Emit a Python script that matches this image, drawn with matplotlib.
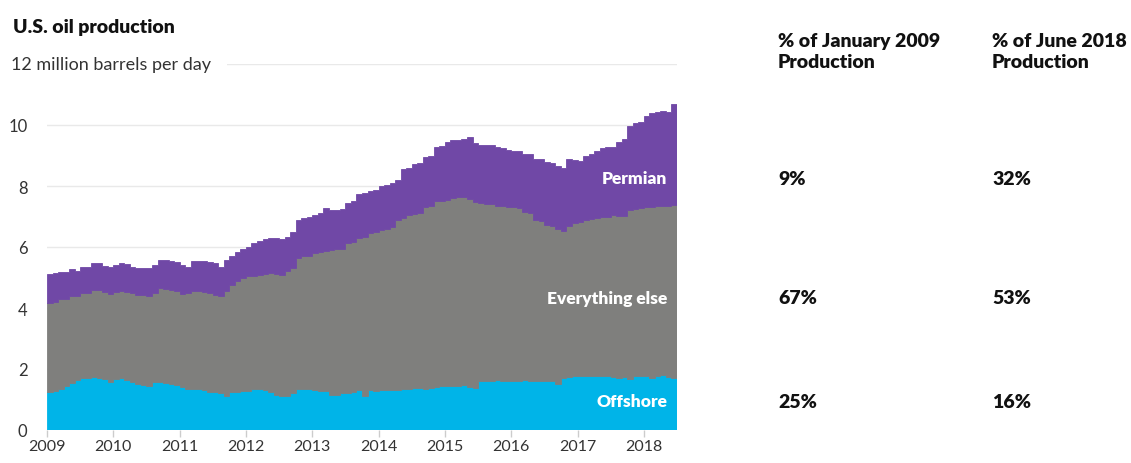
import numpy as np
import matplotlib.pyplot as plt

plt.rcParams['font.family'] = ['Lato', 'DejaVu Sans']

# monthly production, million barrels per day, Jan 2009 - Jun 2018
offshore = [
    1.25, 1.28, 1.34, 1.45, 1.55, 1.63, 1.69, 1.72, 1.75, 1.72, 1.66, 1.58,
    1.66, 1.69, 1.64, 1.56, 1.50, 1.48, 1.45, 1.56, 1.58, 1.55, 1.50, 1.48,
    1.40, 1.36, 1.34, 1.34, 1.32, 1.25, 1.23, 1.20, 1.12, 1.25, 1.26, 1.28,
    1.28, 1.34, 1.34, 1.30, 1.25, 1.16, 1.12, 1.10, 1.21, 1.36, 1.36, 1.34,
    1.30, 1.28, 1.27, 1.16, 1.14, 1.20, 1.22, 1.25, 1.30, 1.12, 1.30, 1.29,
    1.30, 1.31, 1.32, 1.30, 1.33, 1.36, 1.37, 1.38, 1.36, 1.38, 1.40, 1.44,
    1.44, 1.45, 1.44, 1.46, 1.40, 1.38, 1.60, 1.62, 1.60, 1.63, 1.62, 1.60,
    1.62, 1.60, 1.63, 1.62, 1.62, 1.60, 1.62, 1.60, 1.52, 1.70, 1.75, 1.76,
    1.76, 1.78, 1.77, 1.76, 1.78, 1.76, 1.75, 1.72, 1.74, 1.68, 1.78, 1.78,
    1.78, 1.72, 1.78, 1.80, 1.73, 1.71,
]
everything_else = [
    2.92, 2.92, 2.94, 2.85, 2.84, 2.76, 2.80, 2.78, 2.85, 2.86, 2.86, 2.89,
    2.86, 2.86, 2.88, 2.93, 2.94, 2.95, 2.94, 2.93, 3.08, 3.07, 3.08, 3.08,
    3.07, 3.14, 3.21, 3.22, 3.21, 3.25, 3.18, 3.20, 3.43, 3.52, 3.64, 3.69,
    3.76, 3.72, 3.75, 3.82, 3.90, 3.96, 3.97, 4.10, 4.10, 4.29, 4.33, 4.38,
    4.50, 4.54, 4.61, 4.75, 4.79, 4.75, 4.91, 4.93, 5.00, 5.21, 5.16, 5.21,
    5.25, 5.29, 5.33, 5.60, 5.61, 5.69, 5.71, 5.72, 5.94, 5.97, 6.10, 6.08,
    6.11, 6.15, 6.19, 6.18, 6.18, 6.08, 5.85, 5.80, 5.80, 5.72, 5.73, 5.72,
    5.68, 5.68, 5.52, 5.50, 5.26, 5.25, 5.10, 5.10, 5.08, 4.84, 4.95, 5.04,
    5.06, 5.12, 5.16, 5.19, 5.19, 5.22, 5.31, 5.31, 5.28, 5.54, 5.47, 5.50,
    5.52, 5.58, 5.55, 5.55, 5.62, 5.67,
]
permian = [
    0.94, 0.94, 0.89, 0.87, 0.90, 0.81, 0.85, 0.86, 0.87, 0.89, 0.87, 0.87,
    0.88, 0.92, 0.91, 0.87, 0.88, 0.88, 0.91, 0.93, 0.92, 0.94, 0.95, 0.94,
    0.95, 0.86, 0.98, 0.97, 1.02, 1.00, 1.06, 0.96, 1.03, 0.95, 0.95, 0.98,
    0.96, 1.06, 1.11, 1.14, 1.13, 1.17, 1.16, 1.14, 1.19, 1.25, 1.26, 1.26,
    1.25, 1.28, 1.39, 1.31, 1.27, 1.30, 1.32, 1.32, 1.44, 1.43, 1.39, 1.37,
    1.45, 1.42, 1.45, 1.30, 1.61, 1.55, 1.64, 1.65, 1.65, 1.65, 1.78, 1.78,
    1.89, 1.90, 1.89, 1.91, 2.02, 1.94, 1.91, 1.92, 1.95, 1.93, 1.90, 1.86,
    1.86, 1.86, 1.91, 1.92, 2.02, 2.03, 2.06, 2.05, 2.07, 2.04, 2.18, 2.04,
    2.00, 2.10, 2.12, 2.21, 2.28, 2.29, 2.21, 2.40, 2.52, 2.76, 2.80, 2.81,
    3.00, 3.08, 3.09, 3.12, 3.07, 3.31,
]

series_names = ['Offshore', 'Everything else', 'Permian']
share_jan_2009 = ['25%', '67%', '9%']
share_jun_2018 = ['16%', '53%', '32%']
years = list(range(2009, 2019))

colors = ['#00b4e8', '#7f7f7d', '#7048a6']
label_y = [0.95, 4.33, 8.26]   # vertical position of each row of text
ink = '#111111'

fig = plt.figure(figsize=(11.31, 4.64), dpi=100)
ax = fig.add_axes([47 / 1131, 33 / 464, 630 / 1131, 366 / 464])

edges = 2009 + np.arange(len(offshore) + 1) / 12
base = np.zeros(len(offshore))
for vals, color in zip([offshore, everything_else, permian], colors):
    top = base + np.array(vals)
    ax.stairs(top, edges, baseline=base, fill=True, color=color,
              lw=0.6, edgecolor=color)
    base = top

ax.set_xlim(2009, edges[-1])
ax.set_ylim(0, 12)
for s in ax.spines.values():
    s.set_visible(False)

ax.set_axisbelow(True)
ax.yaxis.grid(True, color='#e9e9e9', lw=1)
ax.set_yticks([0, 2, 4, 6, 8, 10, 12])
ax.set_yticklabels(['0', '2', '4', '6', '8', '10', ''])
ax.tick_params(axis='y', length=0, pad=14, labelsize=12, labelcolor='#333333')
ax.set_xticks(years)
ax.set_xticklabels([str(y) for y in years])
ax.tick_params(axis='x', length=5, width=1, color='#cccccc', pad=1.5,
               labelsize=11.5, labelcolor='#333333')

ax.annotate('12 million barrels per day', xy=(11, 12),
            xycoords=('figure pixels', 'data'), ha='left', va='center',
            fontsize=13, color='#333333',
            bbox=dict(boxstyle='square,pad=0.9', fc='white', ec='none'))

fig.text(13 / 1131, 1 - 27 / 464, 'U.S. oil production', fontsize=14,
         fontweight='heavy', color=ink, va='center')

# labels inside the bands
for name, y in zip(series_names, label_y):
    ax.annotate(name, xy=(edges[-1], y), xytext=(-10, 0),
                textcoords='offset pixels', ha='right', va='center',
                fontsize=12.5, fontweight='heavy', color='white')

# share table on the right
for x, head in [(778, '% of January 2009\nProduction'),
                (992, '% of June 2018\nProduction')]:
    fig.text(x / 1131, 1 - 33 / 464, head, fontsize=14, fontweight='heavy',
             va='top', linespacing=1.3, color=ink)
for a, b, y in zip(share_jan_2009, share_jun_2018, label_y):
    for x, txt in [(778, a), (992, b)]:
        ax.annotate(txt, xy=(x, y), xycoords=('figure pixels', 'data'),
                    va='center', fontsize=14, fontweight='heavy', color=ink)

fig.savefig('out.png', dpi=100, facecolor='white')
